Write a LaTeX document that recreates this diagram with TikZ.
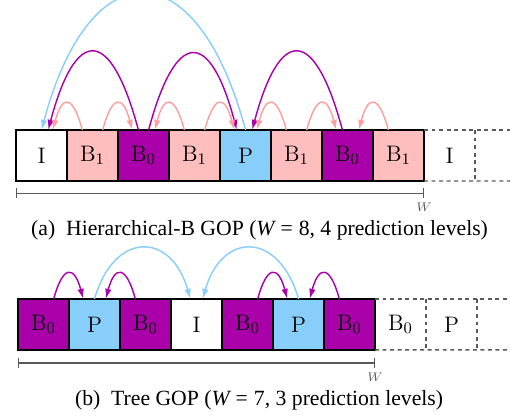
\documentclass[tikz,border=0pt]{standalone}
\usepackage{fontspec}
\newfontfamily\capfont{Liberation Serif}
\usetikzlibrary{arrows.meta,positioning}
\definecolor{Blush}{HTML}{FFBEBE}
\definecolor{Plum}{HTML}{AA00AA}
\definecolor{Sky}{HTML}{87CEFA}
\definecolor{Coral}{HTML}{FF9E9E}
\definecolor{Slate}{HTML}{5A5A5A}
\tikzset{
  frame/.style={draw=black,line width=1.1pt,minimum width=1cm,minimum height=1cm,inner sep=0pt,
    outer sep=0pt,fill=white,font=\fontsize{12.5}{15}\selectfont},
  spare/.style={minimum width=1cm,minimum height=1cm,inner sep=0pt,outer sep=0pt,
    font=\fontsize{12.5}{15}\selectfont},
  ghost/.style={draw=Slate,line width=0.8pt,dash pattern=on 2.2pt off 2pt},
  ruler/.style={{Bar[width=2mm]}-{Bar[width=2mm]},line width=0.6pt,draw=black!65},
  wlabel/.style={text=Slate,font=\fontsize{7}{8}\selectfont,inner sep=0pt},
  caption/.style={font=\capfont\fontsize{12.1}{14}\selectfont,inner sep=0pt},
  arcL/.style={out=105,in=75},
  arcR/.style={out=75,in=105},
  skyarc/.style={-{Latex[length=2mm,width=1.3mm]},line width=0.8pt,draw=Sky},
  plumarc/.style={-{Latex[length=2mm,width=1.3mm]},line width=0.8pt,draw=Plum},
  coralarc/.style={-{Latex[length=2mm,width=1.3mm]},line width=0.8pt,draw=Coral},
}

\begin{document}
\begin{tikzpicture}[node distance=0pt]
  \useasboundingbox (0,0) rectangle (10,8.176);
  % (a) hierarchical-B
  \node[frame] (a1) at (0.814,5.127) {I};
  \node[frame,fill=Blush,right=of a1] (a2) {B$_1$};
  \node[frame,fill=Plum,right=of a2] (a3) {B$_0$};
  \node[frame,fill=Blush,right=of a3] (a4) {B$_1$};
  \node[frame,fill=Sky,right=of a4] (a5) {P};
  \node[frame,fill=Blush,right=of a5] (a6) {B$_1$};
  \node[frame,fill=Plum,right=of a6] (a7) {B$_0$};
  \node[frame,fill=Blush,right=of a7] (a8) {B$_1$};
  \node[spare,right=of a8] (a9) {I};
  \coordinate (atop) at (10,5.627);
  \coordinate (abot) at (10,4.627);
  \draw[ghost] (a8.north east) -- (atop);
  \draw[ghost] (a8.south east) -- (abot);
  \draw[ghost] (a9.north east) -- (a9.south east);

  \draw[skyarc] (a5.north) to[arcL,looseness=2.36] (a1.north);
  \draw[plumarc] ([xshift=-1mm]a3.north) to[arcL,looseness=3.06] ([xshift=1.3mm]a1.north);
  \draw[plumarc] ([xshift=1mm]a3.north) to[arcR,looseness=3.06] ([xshift=-1.7mm]a5.north);
  \draw[plumarc] ([xshift=-1mm]a7.north) to[arcL,looseness=3.06] ([xshift=1.3mm]a5.north);
  \draw[coralarc] ([xshift=-2mm]a2.north) to[arcL,looseness=3.2] ([xshift=2.2mm]a1.north);
  \draw[coralarc] ([xshift=2mm]a2.north) to[arcR,looseness=3.2] ([xshift=-2.2mm]a3.north);
  \draw[coralarc] ([xshift=-2mm]a4.north) to[arcL,looseness=3.2] ([xshift=2.2mm]a3.north);
  \draw[coralarc] ([xshift=2mm]a4.north) to[arcR,looseness=3.2] ([xshift=-2.2mm]a5.north);
  \draw[coralarc] ([xshift=-2mm]a6.north) to[arcL,looseness=3.2] ([xshift=2.2mm]a5.north);
  \draw[coralarc] ([xshift=2mm]a6.north) to[arcR,looseness=3.2] ([xshift=-2.2mm]a7.north);
  \draw[coralarc] ([xshift=-2mm]a8.north) to[arcL,looseness=3.2] ([xshift=2.2mm]a7.north);

  \coordinate (wa0) at (0.314,4.39);
  \coordinate (wa1) at (8.314,4.39);
  \draw[ruler] (wa0) -- (wa1);
  \node[wlabel] (wa) at (8.314,4.12) {$W$};
  \node[caption] (capa) at (5.09,3.67) {(a)\enskip Hierarchical-B GOP ({\itshape W}\;=\;8, 4 prediction levels)};

  % (b) tree
  \node[frame,fill=Plum] (b1) at (0.853,1.814) {B$_0$};
  \node[frame,fill=Sky,right=of b1] (b2) {P};
  \node[frame,fill=Plum,right=of b2] (b3) {B$_0$};
  \node[frame,right=of b3] (b4) {I};
  \node[frame,fill=Plum,right=of b4] (b5) {B$_0$};
  \node[frame,fill=Sky,right=of b5] (b6) {P};
  \node[frame,fill=Plum,right=of b6] (b7) {B$_0$};
  \node[spare,right=of b7] (b8) {B$_0$};
  \node[spare,right=of b8] (b9) {P};
  \coordinate (btop) at (10,2.314);
  \coordinate (bbot) at (10,1.314);
  \draw[ghost] (b7.north east) -- (btop);
  \draw[ghost] (b7.south east) -- (bbot);
  \draw[ghost] (b8.north east) -- (b8.south east);
  \draw[ghost] (b9.north east) -- (b9.south east);

  \draw[skyarc] (b2.north) to[out=74,in=106,looseness=1.89] ([xshift=-1.2mm]b4.north);
  \draw[skyarc] (b6.north) to[out=106,in=74,looseness=1.89] ([xshift=1.2mm]b4.north);
  \draw[plumarc] ([xshift=2mm]b1.north) to[arcR,looseness=3.05] ([xshift=-2.2mm]b2.north);
  \draw[plumarc] ([xshift=-2mm]b3.north) to[arcL,looseness=3.05] ([xshift=2.2mm]b2.north);
  \draw[plumarc] ([xshift=2mm]b5.north) to[arcR,looseness=3.05] ([xshift=-2.2mm]b6.north);
  \draw[plumarc] ([xshift=-2mm]b7.north) to[arcL,looseness=3.05] ([xshift=2.2mm]b6.north);

  \coordinate (wb0) at (0.353,1.059);
  \coordinate (wb1) at (7.353,1.059);
  \draw[ruler] (wb0) -- (wb1);
  \node[wlabel] (wb) at (7.353,0.784) {$W$};
  \node[caption] (capb) at (5.08,0.333) {(b)\enskip Tree GOP ({\itshape W}\;=\;7, 3 prediction levels)};
\end{tikzpicture}
\end{document}
